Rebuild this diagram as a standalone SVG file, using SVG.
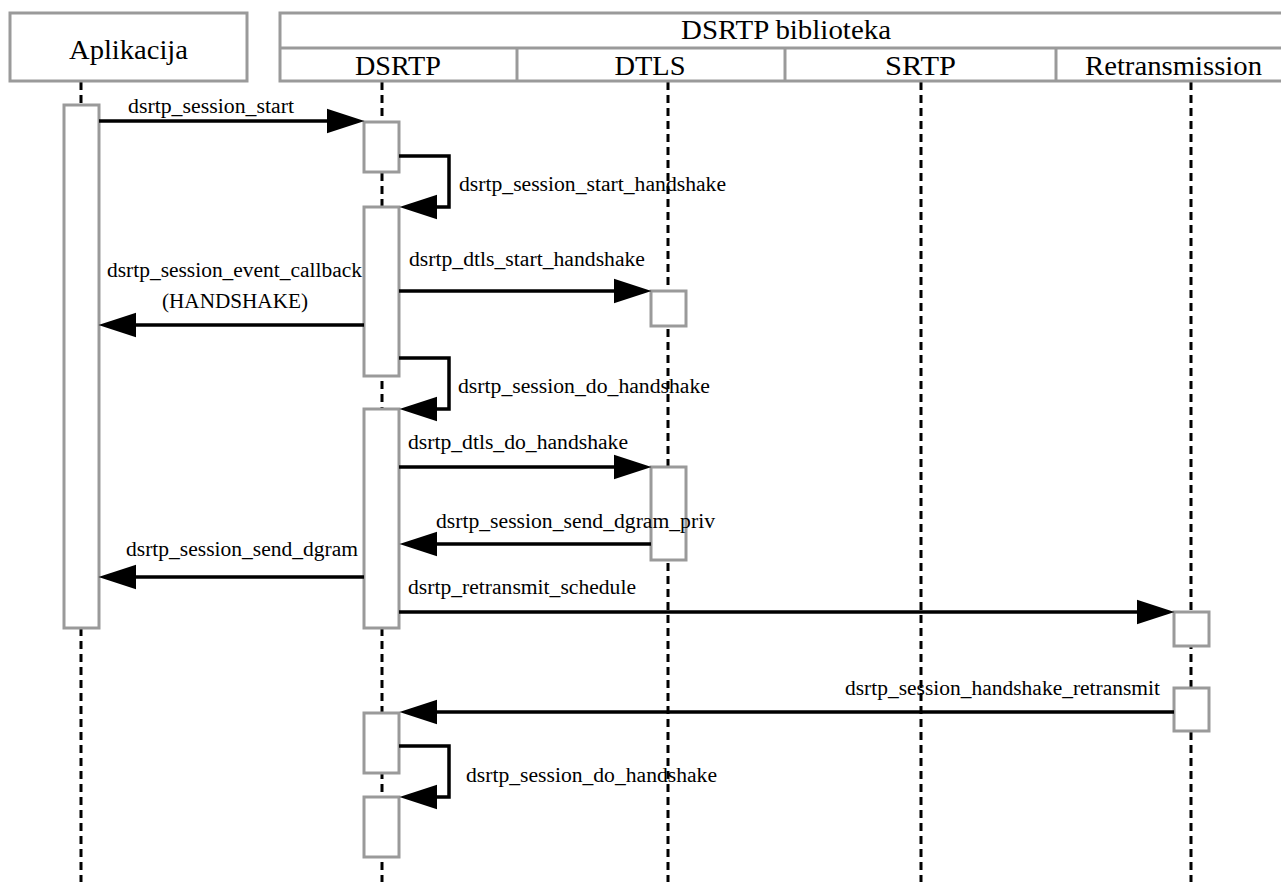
<svg xmlns="http://www.w3.org/2000/svg" width="1281" height="882" viewBox="0 0 1281 882">
<defs>
<marker id="ah" markerUnits="userSpaceOnUse" markerWidth="38" markerHeight="26" viewBox="0 0 37 24" refX="17" refY="12" orient="auto">
<path d="M0,0 L37,12 L0,24 z" fill="#000"/>
</marker>
</defs>
<style>
.hdr{fill:#fff;stroke:#9a9a9a;stroke-width:3}
.div{stroke:#9a9a9a;stroke-width:3}
.life{stroke:#000;stroke-width:3;stroke-dasharray:8 5}
.act{fill:#fff;stroke:#9a9a9a;stroke-width:3}
.msg{fill:none;stroke:#000;stroke-width:3.5;marker-end:url(#ah)}
.ht{font-family:"Liberation Serif","Times New Roman",serif;font-size:27px;fill:#000;text-anchor:middle}
.lt{font-family:"Liberation Serif","Times New Roman",serif;font-size:20.5px;fill:#000}
</style>
<rect width="1281" height="882" fill="#fff"/>

<g id="lifelines">
<line class="life" x1="81" y1="82" x2="81" y2="882"/>
<line class="life" x1="382" y1="82" x2="382" y2="882"/>
<line class="life" x1="668" y1="82" x2="668" y2="882"/>
<line class="life" x1="921" y1="82" x2="921" y2="882"/>
<line class="life" x1="1191" y1="82" x2="1191" y2="882"/>
</g>

<g id="header-aplikacija">
<rect class="hdr" x="10" y="13" width="237" height="68"/>
<text class="ht" x="128.5" y="59" textLength="119" lengthAdjust="spacingAndGlyphs">Aplikacija</text>
</g>

<g id="header-biblioteka">
<rect class="hdr" x="280" y="13" width="1012" height="68"/>
<line class="div" x1="280" y1="48" x2="1292" y2="48"/>
<line class="div" x1="517" y1="48" x2="517" y2="81"/>
<line class="div" x1="785" y1="48" x2="785" y2="81"/>
<line class="div" x1="1056" y1="48" x2="1056" y2="81"/>
<text class="ht" x="786" y="39" textLength="210" lengthAdjust="spacingAndGlyphs">DSRTP biblioteka</text>
<text class="ht" x="398" y="75" textLength="86" lengthAdjust="spacingAndGlyphs">DSRTP</text>
<text class="ht" x="650" y="75" textLength="71" lengthAdjust="spacingAndGlyphs">DTLS</text>
<text class="ht" x="920.5" y="75" textLength="71" lengthAdjust="spacingAndGlyphs">SRTP</text>
<text class="ht" x="1173.5" y="75" textLength="177" lengthAdjust="spacingAndGlyphs">Retransmission</text>
</g>

<g id="activations">
<rect class="act" x="64" y="105" width="35" height="523"/>
<rect class="act" x="364" y="122" width="35" height="50"/>
<rect class="act" x="364" y="207" width="35" height="169"/>
<rect class="act" x="364" y="409" width="35" height="219"/>
<rect class="act" x="651" y="291" width="35" height="35"/>
<rect class="act" x="651" y="467" width="35" height="93"/>
<rect class="act" x="1174" y="612" width="35" height="34"/>
<rect class="act" x="1174" y="688" width="35" height="43"/>
<rect class="act" x="364" y="713" width="35" height="60"/>
<rect class="act" x="364" y="797" width="35" height="60"/>
</g>

<g id="connectors">
<path class="msg" d="M99,121 H344"/>
<path class="msg" d="M399,156 H449 V207 H420"/>
<path class="msg" d="M399,291 H631"/>
<path class="msg" d="M364,325 H119"/>
<path class="msg" d="M399,358 H449 V409 H420"/>
<path class="msg" d="M399,467 H631"/>
<path class="msg" d="M651,544 H420"/>
<path class="msg" d="M364,577 H119"/>
<path class="msg" d="M399,612 H1154"/>
<path class="msg" d="M1174,712 H420"/>
<path class="msg" d="M399,746 H449 V797 H420"/>
</g>

<g id="labels">
<text class="lt" x="128" y="113" textLength="166" lengthAdjust="spacingAndGlyphs">dsrtp_session_start</text>
<text class="lt" x="459" y="191" textLength="267" lengthAdjust="spacingAndGlyphs">dsrtp_session_start_handshake</text>
<text class="lt" x="409" y="266" textLength="236" lengthAdjust="spacingAndGlyphs">dsrtp_dtls_start_handshake</text>
<text class="lt" x="107" y="277" textLength="255" lengthAdjust="spacingAndGlyphs">dsrtp_session_event_callback</text>
<text class="lt" x="162" y="308" textLength="146" lengthAdjust="spacingAndGlyphs">(HANDSHAKE)</text>
<text class="lt" x="458" y="393" textLength="252" lengthAdjust="spacingAndGlyphs">dsrtp_session_do_handshake</text>
<text class="lt" x="408" y="449" textLength="220" lengthAdjust="spacingAndGlyphs">dsrtp_dtls_do_handshake</text>
<text class="lt" x="436" y="528" textLength="279" lengthAdjust="spacingAndGlyphs">dsrtp_session_send_dgram_priv</text>
<text class="lt" x="126" y="556" textLength="232" lengthAdjust="spacingAndGlyphs">dsrtp_session_send_dgram</text>
<text class="lt" x="408" y="594" textLength="228" lengthAdjust="spacingAndGlyphs">dsrtp_retransmit_schedule</text>
<text class="lt" x="845" y="695" textLength="315" lengthAdjust="spacingAndGlyphs">dsrtp_session_handshake_retransmit</text>
<text class="lt" x="466" y="782" textLength="251" lengthAdjust="spacingAndGlyphs">dsrtp_session_do_handshake</text>
</g>
</svg>
